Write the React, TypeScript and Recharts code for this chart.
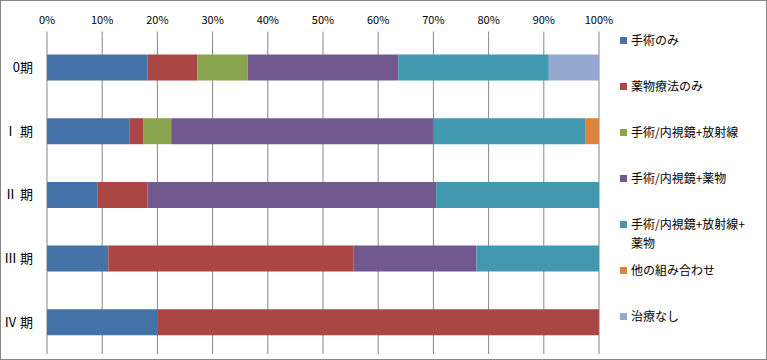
import React from 'react';
import { BarChart, Bar, XAxis, YAxis, CartesianGrid } from 'recharts';

const categories = ['0期', 'Ⅰ 期', 'Ⅱ 期', 'Ⅲ 期', 'Ⅳ 期'];

const surgeryOnly = [18.2, 15.0, 9.1, 11.1, 20.0];
const drugOnly = [9.1, 2.5, 9.1, 44.4, 80.0];
const surgeryRadiation = [9.1, 5.0, 0, 0, 0];
const surgeryDrug = [27.3, 47.5, 52.3, 22.2, 0];
const surgeryRadiationDrug = [27.3, 27.5, 29.5, 22.2, 0];
const otherCombination = [0, 2.5, 0, 0, 0];
const noTreatment = [9.1, 0, 0, 0, 0];

const xTicks = [0, 0.1, 0.2, 0.3, 0.4, 0.5, 0.6, 0.7, 0.8, 0.9, 1];
const boundaryTicks = [0, 1, 2, 3, 4, 5];

const series = [
  { key: 's1', name: '手術のみ', values: surgeryOnly, color: '#4572A7' },
  { key: 's2', name: '薬物療法のみ', values: drugOnly, color: '#AA4643' },
  { key: 's3', name: '手術/内視鏡+放射線', values: surgeryRadiation, color: '#89A54E' },
  { key: 's4', name: '手術/内視鏡+薬物', values: surgeryDrug, color: '#71588F' },
  { key: 's5', name: '手術/内視鏡+放射線+\n薬物', values: surgeryRadiationDrug, color: '#4198AF' },
  { key: 's6', name: '他の組み合わせ', values: otherCombination, color: '#DB843D' },
  { key: 's7', name: '治療なし', values: noTreatment, color: '#93A9CF' },
];

const data = categories.map((c, i) => {
  const row: Record<string, any> = { stage: c };
  series.forEach((s) => {
    row[s.key] = s.values[i];
  });
  return row;
});

const FONT = '"Noto Sans CJK JP", "Noto Sans", sans-serif';
const GRID = '#868686';

export default function App() {
  return (
    <div style={{ position: 'absolute', left: 0, top: 0, width: 767, height: 360, background: '#fff', fontFamily: FONT }}>
      <BarChart
        width={767}
        height={360}
        data={data}
        layout="vertical"
        stackOffset="expand"
        margin={{ top: 0.5, right: 168, bottom: 6, left: 0 }}
      >
        <CartesianGrid horizontal={false} vertical stroke={GRID} yAxisId="c" />
        <XAxis
          type="number"
          orientation="top"
          domain={[0, 1]}
          ticks={xTicks}
          tickFormatter={(v: number) => `${Math.round(v * 100)}%`}
          axisLine={false}
          tickLine={{ stroke: GRID }}
          tickSize={4}
          tickMargin={8}
          height={35}
          interval={0}
          tick={{ fontSize: 11, fill: '#000', fontFamily: FONT }}
        />
        <XAxis
          xAxisId="b"
          type="number"
          orientation="bottom"
          domain={[0, 1]}
          height={0}
          tick={false}
          tickLine={false}
          axisLine={{ stroke: GRID }}
        />
        <YAxis
          yAxisId="n"
          type="number"
          domain={[0, 5]}
          ticks={boundaryTicks}
          width={0}
          tickSize={5}
          tickFormatter={() => ''}
          axisLine={{ stroke: GRID }}
          tickLine={{ stroke: GRID }}
        />
        <YAxis
          yAxisId="c"
          type="category"
          dataKey="stage"
          width={47}
          axisLine={false}
          tickLine={false}
          tickSize={0}
          tickMargin={14}
          tick={{ fontSize: 13, fill: '#000', fontFamily: FONT }}
        />
        {series.map((s) => (
          <Bar
            key={s.key}
            dataKey={s.key}
            name={s.name}
            stackId="a"
            yAxisId="c"
            fill={s.color}
            barSize={26}
            isAnimationActive={false}
          />
        ))}
      </BarChart>
      <div style={{ position: 'absolute', left: 620, top: 30.75, width: 146 }}>
        {series.map((s) => (
          <div key={s.key} style={{ height: 46.1, display: 'flex', alignItems: 'flex-start' }}>
            <div style={{ width: 7, height: 7, background: s.color, marginTop: 6, marginRight: 4, flex: 'none' }} />
            <div style={{ fontSize: 12, lineHeight: '18.5px', color: '#000', whiteSpace: 'pre-line' }}>{s.name}</div>
          </div>
        ))}
      </div>
      <div style={{ position: 'absolute', left: 0, top: 0, width: 767, height: 360, border: `1px solid ${GRID}`, boxSizing: 'border-box', pointerEvents: 'none' }} />
    </div>
  );
}
